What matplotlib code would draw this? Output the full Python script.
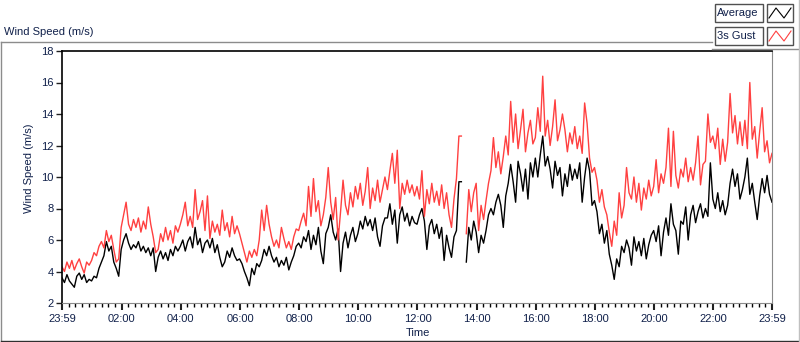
"""Daily wind speed chart: 1-minute average and 3 s gust."""

import matplotlib

matplotlib.use("Agg")
import matplotlib.pyplot as plt  # noqa: E402
import numpy as np  # noqa: E402
from matplotlib.lines import Line2D  # noqa: E402
from matplotlib.patches import Rectangle  # noqa: E402

# Samples every 5 minutes, from 23:59 (previous day) to 23:59; one row per hour.
# None marks the short logging gap around 13:35.
average = [
    3.6, 3.3, 3.8, 3.4, 3.2, 3.0, 3.7, 3.9, 3.5, 3.8, 3.3, 3.5,
    3.4, 3.7, 3.6, 4.2, 4.6, 5.0, 5.9, 5.3, 5.6, 4.6, 4.2, 3.7,
    5.4, 6.0, 6.4, 5.8, 5.4, 5.7, 5.5, 5.9, 5.3, 5.6, 5.2, 5.5,
    5.0, 5.5, 4.0, 4.9, 5.3, 4.8, 5.2, 4.7, 5.4, 5.0, 5.6, 5.3,
    5.6, 6.0, 5.3, 5.9, 6.2, 5.5, 6.8, 5.7, 6.1, 5.2, 5.8, 6.0,
    5.5, 6.1, 5.2, 5.7, 4.9, 4.3, 4.6, 5.3, 4.9, 5.5, 5.0, 4.7,
    4.8, 4.5, 4.0, 3.6, 3.1, 4.2, 3.8, 4.5, 4.3, 4.7, 5.4, 5.0,
    5.6, 5.0, 4.6, 4.9, 4.3, 4.7, 4.4, 4.9, 4.1, 4.6, 5.0, 5.6,
    5.8, 5.5, 6.2, 5.9, 6.6, 5.4, 6.3, 5.7, 6.8, 5.3, 4.5, 6.4,
    6.8, 7.6, 6.5, 6.0, 6.7, 4.0, 5.8, 6.5, 5.5, 6.3, 6.8, 5.9,
    6.4, 7.2, 6.7, 7.5, 6.9, 7.3, 6.6, 7.4, 6.2, 5.6, 6.9, 7.4,
    7.4, 8.3, 7.0, 7.9, 5.8, 7.6, 8.1, 7.2, 7.7, 6.9, 7.5, 7.1,
    7.0, 7.6, 8.0, 7.2, 5.4, 6.9, 7.3, 6.4, 7.0, 6.1, 6.8, 4.7,
    6.3, 5.5, 4.9, 6.2, 6.6, 9.7, 9.7, None, 4.6, 6.8, 6.0, 7.2,
    6.5, 5.2, 6.3, 5.8, 6.6, 7.6, 8.0, 7.6, 8.4, 8.9, 8.2, 6.8,
    8.8, 9.6, 10.8, 9.7, 8.4, 11.0, 10.2, 9.1, 10.5, 8.6, 10.9, 10.0,
    11.2, 10.0, 11.4, 12.6, 10.7, 11.3, 10.5, 9.3, 11.0, 10.1, 10.6, 8.8,
    10.2, 9.4, 10.8, 9.8, 10.5, 9.9, 10.9, 8.4, 10.0, 11.2, 10.4, 8.2,
    8.5, 7.8, 6.4, 7.0, 5.8, 6.6, 5.1, 4.4, 3.5, 4.8, 4.3, 5.6,
    5.2, 6.0, 5.5, 4.4, 6.2, 5.3, 5.9, 5.0, 6.1, 4.8, 5.7, 6.3,
    6.6, 5.9, 6.9, 5.0, 6.5, 7.4, 6.3, 8.3, 7.0, 6.6, 5.1, 7.2,
    7.0, 8.1, 6.0, 7.6, 8.2, 7.1, 7.8, 8.3, 7.4, 8.0, 7.5, 10.9,
    8.6, 8.0, 9.0, 7.8, 8.5, 7.6, 8.2, 9.6, 10.5, 9.4, 10.2, 8.6,
    9.2, 10.0, 11.2, 8.9, 9.6, 8.4, 7.3, 8.8, 9.9, 9.0, 10.1, 8.9,
    8.4,
]
gust = [
    4.3, 4.0, 4.6, 4.2, 4.7, 4.1, 4.5, 4.8, 4.3, 3.9, 4.6, 4.4,
    4.7, 5.2, 5.0, 5.6, 5.9, 5.5, 6.6, 5.9, 6.3, 5.4, 4.6, 4.8,
    6.8, 7.6, 8.4, 7.0, 6.6, 7.3, 6.8, 7.4, 6.5, 7.2, 6.7, 8.1,
    7.0, 6.2, 5.2, 5.4, 6.4, 5.9, 6.8, 6.0, 6.6, 5.8, 6.9, 6.5,
    7.0, 7.6, 8.4, 6.9, 7.5, 6.8, 9.2, 7.3, 7.8, 8.5, 6.6, 8.8,
    6.1, 7.2, 6.5, 7.0, 6.3, 7.9, 6.6, 7.1, 6.2, 7.5, 6.4, 6.9,
    6.4, 5.8, 5.2, 4.6, 5.3, 4.9, 5.4, 5.0, 6.0, 7.9, 6.6, 8.2,
    7.0, 6.2, 5.6, 6.0, 5.5, 6.8, 6.1, 5.5, 5.9, 5.4, 6.2, 6.7,
    6.6, 7.2, 7.7, 6.9, 9.4, 7.5, 9.9, 7.8, 8.5, 6.9, 7.6, 8.7,
    10.6, 8.4, 7.3, 8.7, 6.0, 7.8, 9.8, 8.2, 7.6, 9.0, 8.1, 9.4,
    8.6, 9.6, 8.2, 9.1, 10.6, 8.0, 9.3, 8.5, 9.8, 8.4, 9.2, 10.0,
    9.2, 10.4, 11.5, 9.6, 11.7, 8.0, 9.6, 8.9, 9.8, 9.0, 9.5, 8.8,
    9.4, 8.6, 10.4, 7.5, 9.2, 8.3, 9.6, 8.4, 9.1, 8.2, 9.5, 8.0,
    9.0, 7.6, 6.8, 8.6, 9.9, 12.6, 12.6, None, 6.4, 9.2, 7.8, 9.0,
    9.6, 6.6, 8.2, 7.3, 8.5, 9.6, 10.4, 12.5, 10.6, 11.6, 10.2, 11.3,
    12.6, 11.4, 14.8, 12.2, 14.0, 11.8, 13.0, 14.3, 11.6, 12.8, 13.6, 12.1,
    12.5, 14.4, 12.9, 16.4, 12.6, 13.6, 12.0, 13.2, 14.9, 12.3, 13.0, 14.0,
    13.0, 11.6, 12.8, 12.1, 13.2, 11.8, 12.6, 11.5, 14.7, 13.4, 11.2, 10.3,
    10.6, 9.8, 8.4, 9.2, 8.1, 7.6, 6.5, 5.6, 7.2, 6.3, 9.0, 7.4,
    8.2, 10.6, 9.0, 8.6, 10.0, 8.4, 9.6, 7.9, 9.3, 8.6, 9.8, 8.8,
    9.4, 11.1, 9.0, 10.2, 9.6, 10.6, 13.1, 9.4, 12.9, 10.1, 9.3, 10.5,
    10.0, 11.2, 9.7, 10.6, 9.8, 10.9, 12.6, 9.5, 10.8, 11.0, 14.0, 12.2,
    12.6, 11.8, 13.1, 10.8, 12.4, 11.0, 12.2, 15.3, 12.8, 13.9, 12.1, 13.5,
    12.0, 13.6, 11.8, 16.0, 12.4, 13.2, 11.2, 12.9, 14.4, 11.6, 12.3, 10.9,
    11.5,
]
series_names = ["Average", "3s Gust"]
tick_labels = ["23:59", "02:00", "04:00", "06:00", "08:00", "10:00", "12:00",
               "14:00", "16:00", "18:00", "20:00", "22:00", "23:59"]

W, H = 800, 342
TEXT = "#10204a"
plt.rcParams["font.family"] = ["Liberation Sans", "DejaVu Sans"]


def fx(px):
    return px / W


def fy(py):
    return 1 - py / H


minutes = np.arange(-1, 1440, 5)
avg = np.array(average, dtype=float)
gst = np.array(gust, dtype=float)

fig = plt.figure(figsize=(W / 100, H / 100), dpi=100)
ax = fig.add_axes([fx(62), fy(303), fx(772) - fx(62), fy(51) - fy(303)])

ax.plot(minutes, avg, color="black", lw=1.0)
ax.plot(minutes, gst, color="#ff4040", lw=1.0)

ax.set_xlim(-1, 1439)
ax.set_ylim(2, 18)

major = [-1] + list(range(120, 1440, 120)) + [1439]
minor = []
for a, b in zip(major[:-1], major[1:]):
    minor += list(np.linspace(a, b, 10)[1:-1])
ax.set_xticks(major)
ax.set_xticklabels(tick_labels)
ax.set_xticks(minor, minor=True)
ax.set_yticks(range(2, 19, 2))

ax.tick_params(axis="both", labelsize=8, labelcolor=TEXT, color="#202020")
ax.tick_params(axis="y", length=4, width=1, pad=2)
ax.tick_params(axis="x", which="major", length=5, width=1.5, pad=3)
ax.tick_params(axis="x", which="minor", length=3, width=1)

for side in ("left", "top"):
    ax.spines[side].set_color("black")
for side in ("right", "bottom"):
    ax.spines[side].set_color("#8a8a8a")
ax.spines["top"].set_linewidth(1.2)
ax.spines["left"].set_linewidth(1.2)

# Axis captions placed like the LabVIEW graph.
fig.text(fx(29), fy(168), "Wind Speed (m/s)", rotation=90, ha="center",
         va="center", fontsize=8, color=TEXT)
fig.text(fx(418), fy(333), "Time", ha="center", va="center", fontsize=8,
         color=TEXT)
fig.text(fx(4), fy(32), "Wind Speed (m/s)", ha="left", va="center",
         fontsize=8, color=TEXT)

# Outer frame of the graph control.
frame = [
    ((1, 712), (42, 42), "#8c8c8c"),
    ((712, 799), (49, 49), "#8c8c8c"),
    ((1, 1), (42, 341), "#8c8c8c"),
    ((1, 799), (341, 341), "#303030"),
    ((799, 799), (0, 341), "#c0c0c0"),
]
for xs, ys, col in frame:
    fig.add_artist(Line2D([fx(x) for x in xs], [fy(y) for y in ys],
                          color=col, lw=1))

# Plot legend, top right.
colors = ["black", "#ff4040"]
for i, (name, col) in enumerate(zip(series_names, colors)):
    top = 4 + i * 23
    fig.add_artist(Rectangle((fx(715), fy(top + 18)), fx(48), 18 / H,
                             facecolor="white", edgecolor="#505050", lw=1))
    fig.add_artist(Rectangle((fx(767), fy(top + 18)), fx(26), 18 / H,
                             facecolor="white", edgecolor="#505050", lw=1))
    fig.text(fx(717), fy(top + 9), name, ha="left", va="center",
             fontsize=8, color=TEXT)
    icon_x = [769, 776, 784, 791]
    icon_y = [top + 14, top + 4, top + 14, top + 4]
    fig.add_artist(Line2D([fx(x) for x in icon_x], [fy(y) for y in icon_y],
                          color=col, lw=0.8))

fig.savefig("out.png", dpi=100)
plt.close(fig)
